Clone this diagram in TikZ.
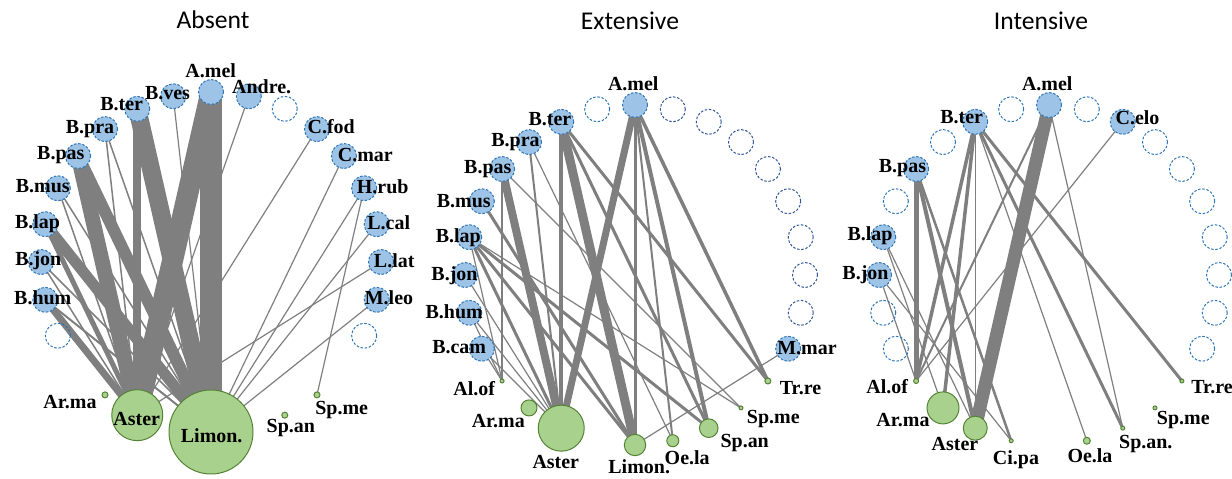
\documentclass[tikz,border=0pt]{standalone}
\usepackage{fontspec}
\setmainfont{Liberation Serif}
\newfontfamily\calfont{Carlito}
\usetikzlibrary{calc,backgrounds}

\definecolor{polfill}{RGB}{157,195,230}
\definecolor{polline}{RGB}{46,117,182}
\definecolor{poldark}{RGB}{47,85,151}
\definecolor{plafill}{RGB}{169,209,142}
\definecolor{plaline}{RGB}{84,130,53}
\definecolor{linkgray}{RGB}{127,127,127}

\tikzset{
  pol/.style={circle,draw=polline,fill=polfill,dash pattern=on 1.8pt off 1.2pt,
    line width=0.7pt,minimum size=0.625cm,inner sep=0pt},
  emp/.style={pol,fill=none},
  empd/.style={emp,draw=poldark},
  pla/.style={circle,draw=plaline,fill=plafill,line width=0.7pt,inner sep=0pt},
  link/.style={draw=linkgray},
  lbl/.style={font=\fontsize{14.2}{16}\selectfont\bfseries,inner sep=0pt,
    text height=10pt,text depth=2pt},
  ttl/.style={font=\calfont\fontsize{18.2}{20}\selectfont,inner sep=0pt}
}

\begin{document}
\begin{tikzpicture}[x=0.025cm,y=-0.025cm]
  \useasboundingbox (0,0) rectangle (1232,479);

  % titles
  \node[ttl] (tabs) at (213,20) {Absent};
  \node[ttl] (text) at (630,21) {Extensive};
  \node[ttl] (tint) at (1041,21) {Intensive};

  % ---------------- Absent
  \coordinate (c1) at (211,262);
  \foreach \k/\nm in {0/amel,-1/bves,-2/bter,-3/bpra,-4/bpas,-5/bmus,-6/blap,-7/bjon,-8/bhum,
      1/andre,3/cfod,4/cmar,5/hrub,6/lcal,7/llat,8/mleo}
    \node[pol] (a\nm) at ($(c1)+({-90+\k*360/28}:170)$) {};
  \foreach \k in {2,9,-9}
    \node[emp] (ae\k) at ($(c1)+({-90+\k*360/28}:170)$) {};
  \foreach \k/\nm/\r in {-3/arma/3,-2/aster/25.5,0/limon/42,2/span/3,3/spme/3}
    \node[pla,minimum size=2*\r*0.025cm] (a\nm) at ($(c1)+({90-\k*360/28}:170)$) {};

  \begin{scope}[on background layer]
    \foreach \a/\b/\w in {amel/limon/22,amel/aster/21,bter/limon/18,bter/aster/8,
        bpas/aster/15,bpas/limon/12,blap/limon/11,blap/aster/5,bhum/aster/7,bhum/limon/2,
        bjon/aster/1.5,bjon/limon/1.5,bmus/aster/1.5,bmus/limon/1.5,bpra/aster/1.5,
        bpra/limon/1.5,bves/limon/1.2,andre/aster/1.2,cfod/aster/1.2,cmar/limon/1.2,
        hrub/limon/1.2,hrub/spme/1.2,lcal/limon/1.2,llat/aster/1.2,mleo/limon/1.2}
      \draw[link,line width=\w*0.025cm] (a\a.center) -- (a\b.center);
  \end{scope}

  \foreach \nm/\x/\y/\t in {amel/210.7/71.7/A.mel,bves/167.5/94/B.ves,andre/261.7/88.3/Andre.,
      bter/121.7/105/B.ter,bpra/90/128.3/B.pra,bpas/60.8/154.3/B.pas,bmus/42.8/186.7/B.mus,
      blap/37.5/223.3/B.lap,bjon/38.3/260/B.jon,bhum/42.8/299.3/B.hum,cfod/331.2/128.3/C.fod,
      cmar/365.3/156/C.mar,hrub/382.7/188.3/H.rub,lcal/388.7/224/L.cal,llat/394.2/261.7/L.lat,
      mleo/389/299.3/M.leo,arma/70/403.3/Ar.ma,aster/136.7/420/Aster,limon/211.7/437/Limon.,
      span/290.8/426.7/Sp.an,spme/341.7/409.3/Sp.me}
    \node[lbl] (la\nm) at (\x,\y) {\t};

  % ---------------- Extensive
  \coordinate (c2) at (635,275);
  \foreach \k/\nm in {0/amel,-2/bter,-3/bpra,-4/bpas,-5/bmus,-6/blap,-7/bjon,-8/bhum,-9/bcam,9/mmar}
    \node[pol] (e\nm) at ($(c2)+({-90+\k*360/28}:170)$) {};
  \node[emp] (ee-1) at ($(c2)+({-90-360/28}:170)$) {};
  \foreach \k in {1,...,8}
    \node[empd] (ee\k) at ($(c2)+({-90+\k*360/28}:170)$) {};
  \foreach \k/\nm/\r in {-4/alof/2,-3/arma/8,-2/aster/23,0/limon/10.7,1/oela/6,2/span/9.3,
      3/spme/2,4/trre/3}
    \node[pla,minimum size=2*\r*0.025cm] (e\nm) at ($(c2)+({90-\k*360/28}:170)$) {};

  \begin{scope}[on background layer]
    \foreach \a/\b/\w in {amel/aster/7,amel/limon/3,amel/oela/2,amel/span/4,amel/trre/3.5,
        bter/limon/9,bter/aster/4,bter/span/3,bter/trre/3,bpra/aster/2,bpra/oela/1.2,
        bpas/aster/8,bpas/alof/2,bpas/spme/1.2,bmus/limon/3,blap/aster/3,blap/limon/3,
        blap/span/3,blap/spme/1.2,blap/alof/1.2,bjon/aster/1.2,bhum/alof/1.2,bhum/aster/1.2,
        bcam/alof/1.2,bcam/aster/1.2,mmar/limon/1.2}
      \draw[link,line width=\w*0.025cm] (e\a.center) -- (e\b.center);
  \end{scope}

  \foreach \nm/\x/\y/\t in {amel/633.3/85/A.mel,bter/550/120/B.ter,bpra/515.5/141/B.pra,
      bpas/487.8/168.3/B.pas,bmus/463.8/201.7/B.mus,blap/458.3/236.7/B.lap,
      bjon/454.5/275/B.jon,bhum/454.2/312.7/B.hum,bcam/459.2/348.3/B.cam,mmar/807/349/M.mar,
      alof/474.2/390/Al.of,arma/498.3/421.7/Ar.ma,aster/555.8/462.7/Aster,
      limon/639.2/468/Limon.,oela/687.2/459.3/Oe.la,span/744.7/441.7/Sp.an,
      spme/773.3/418.3/Sp.me,trre/800.5/389.3/Tr.re}
    \node[lbl] (le\nm) at (\x,\y) {\t};

  % ---------------- Intensive
  \coordinate (c3) at (1049,275);
  \foreach \k/\nm in {0/amel,-2/bter,-4/bpas,-6/blap,-7/bjon,2/celo}
    \node[pol] (i\nm) at ($(c3)+({-90+\k*360/28}:170)$) {};
  \foreach \k in {-1,-3,-5,-8,-9,1,3,4,5,6,7,8,9}
    \node[emp] (ie\k) at ($(c3)+({-90+\k*360/28}:170)$) {};
  \foreach \k/\nm/\r in {-4/alof/2.5,-3/arma/16,-2/aster/12,-1/cipa/2,1/oela/3.5,2/span/2,
      3/spme/2,4/trre/2}
    \node[pla,minimum size=2*\r*0.025cm] (i\nm) at ($(c3)+({90-\k*360/28}:170)$) {};

  \begin{scope}[on background layer]
    \foreach \a/\b/\w in {amel/aster/13,amel/alof/2,amel/span/1.2,celo/alof/1.2,
        bter/alof/3.5,bter/arma/3.5,bter/aster/1.2,bter/oela/1.2,bter/span/3,bter/trre/3,
        bpas/alof/5,bpas/aster/4,bpas/cipa/2.5,blap/arma/1.2,blap/aster/1.2,
        bjon/alof/1.2,bjon/cipa/1.2}
      \draw[link,line width=\w*0.025cm] (i\a.center) -- (i\b.center);
  \end{scope}

  \foreach \nm/\x/\y/\t in {amel/1047.3/85/A.mel,bter/961.7/118.3/B.ter,bpas/902.5/167.3/B.pas,
      blap/870/235/B.lap,bjon/865.5/274.3/B.jon,celo/1137.5/119/C.elo,alof/887.2/388.3/Al.of,
      arma/903/421/Ar.ma,aster/955/445/Aster,cipa/1016/459.3/Ci.pa,oela/1090/456.7/Oe.la,
      span/1145.8/443.3/Sp.an.,spme/1183.3/419.3/Sp.me,trre/1212/388.3/Tr.re}
    \node[lbl] (li\nm) at (\x,\y) {\t};
\end{tikzpicture}
\end{document}
